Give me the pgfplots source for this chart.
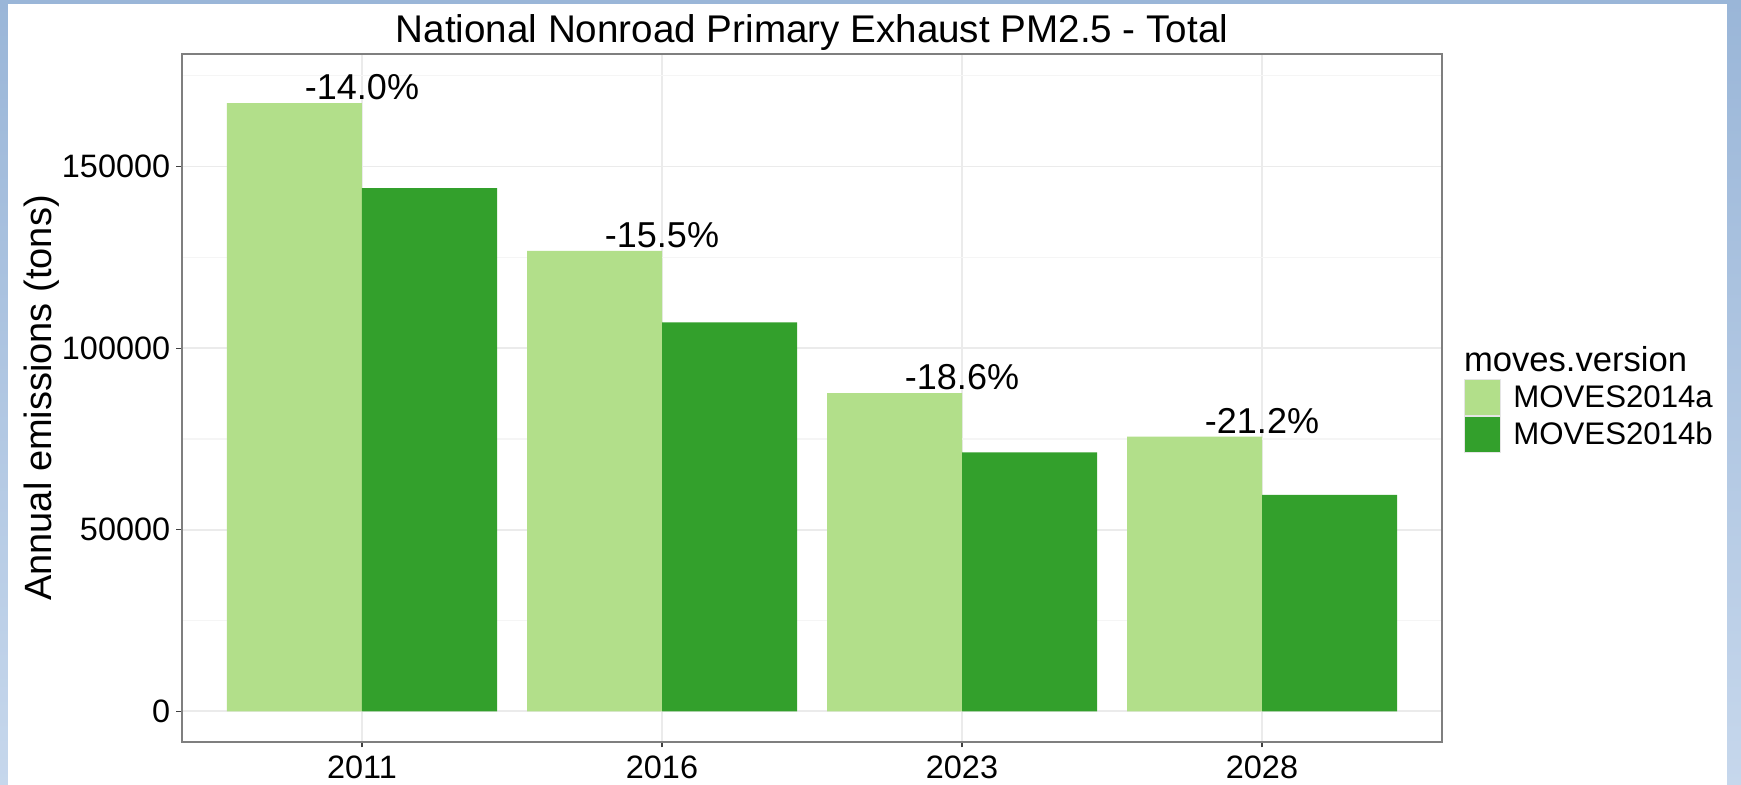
\documentclass[border=0pt]{standalone}
\usepackage{pgfplots}
\pgfplotsset{compat=1.18}
\usepackage{fontspec}
\setmainfont{Liberation Sans}

\definecolor{lightgrn}{HTML}{B2DF8A}
\definecolor{darkgrn}{HTML}{33A02C}
\definecolor{gridmaj}{HTML}{EBEBEB}
\definecolor{gridmin}{HTML}{F5F5F5}
\definecolor{panelframe}{HTML}{7F7F7F}
\definecolor{slideA}{HTML}{9AB6D8}
\definecolor{slideB}{HTML}{C6D7EC}

\begin{document}
\begin{tikzpicture}
% slide background behind the chart
\shade[top color=slideA, bottom color=slideB] (-91pt,-21.5pt) rectangle (779.5pt,371pt);
\fill[white] (-86.75pt,-21.5pt) rectangle (772.5pt,369pt);

\begin{axis}[
  at={(0,0)}, anchor=south west,
  scale only axis, width=630pt, height=344pt,
  xmin=0.4, xmax=4.6, ymin=-8450, ymax=181000,
  xtick={1,2,3,4}, xticklabels={2011,2016,2023,2028},
  ytick={0,50000,100000,150000},
  minor ytick={25000,75000,125000,175000},
  scaled y ticks=false,
  yticklabel style={/pgf/number format/fixed, /pgf/number format/precision=0,
    /pgf/number format/1000 sep={}, /pgf/number format/assume math mode=true},
  grid=both,
  major grid style={gridmaj, line width=0.9pt},
  minor grid style={gridmin, line width=0.6pt},
  axis line style={panelframe, line width=0.7pt},
  tick align=outside, major tick length=2.75pt, minor tick length=0pt,
  tick style={black!75, line width=0.6pt},
  xtick pos=left, ytick pos=left,
  ticklabel style={font=\fontsize{16.2}{19}\selectfont},
  yticklabel style={anchor=east, inner sep=0pt, xshift=-3pt},
  xticklabel style={anchor=base, inner sep=0pt, yshift=-15.75pt},
  ylabel={Annual emissions (tons)},
  ylabel style={at={([xshift=-65pt]axis description cs:0,0.5)}, anchor=base,
    inner sep=0pt, font=\fontsize{19}{22}\selectfont},
  legend style={at={(axis description cs:1,0)}, anchor=north west,
    xshift=10.8pt, yshift=181.6pt, draw=none, fill=none, inner sep=0pt,
    row sep=0pt, column sep=6.2pt, nodes={inner sep=0pt},
    font=\fontsize{15.6}{18}\selectfont},
  legend cell align=left,
]
\addplot[ybar, bar width=0.45, bar shift=-0.225, fill=lightgrn, draw=none,
  legend image code/.code={
    \draw[fill=lightgrn, draw=gray!20, line width=0.5pt] (0pt,-9pt) rectangle (18pt,9pt);}]
  coordinates {(1,167440) (2,126800) (3,87580) (4,75630)};
\addlegendentry{MOVES2014a}
\addplot[ybar, bar width=0.45, bar shift=0.225, fill=darkgrn, draw=none,
  legend image code/.code={
    \draw[fill=darkgrn, draw=gray!20, line width=0.5pt] (0pt,-9pt) rectangle (18pt,9pt);}]
  coordinates {(1,144030) (2,107100) (3,71280) (4,59600)};
\addlegendentry{MOVES2014b}
% percentage change labels sit on top of the MOVES2014a bars
\addplot[draw=none, mark=none, forget plot, nodes near coords,
  point meta=explicit symbolic,
  nodes near coords style={anchor=base, yshift=1.8pt, inner sep=0pt,
    text=black, font=\fontsize{18}{21}\selectfont}]
  coordinates {(1,167440)[-14.0\%] (2,126800)[-15.5\%] (3,87580)[-18.6\%] (4,75630)[-21.2\%]};
\end{axis}

\node[anchor=base, inner sep=0pt, font=\fontsize{19.3}{22}\selectfont]
  at (315pt,349.8pt) {National Nonroad Primary Exhaust PM2.5 - Total};
\node[anchor=base west, inner sep=0pt, font=\fontsize{17.3}{20}\selectfont]
  at (640.8pt,185pt) {moves.version};

\pgfresetboundingbox
\path[use as bounding box] (-91pt,-21.5pt) rectangle (779.5pt,371pt);
\end{tikzpicture}
\end{document}
